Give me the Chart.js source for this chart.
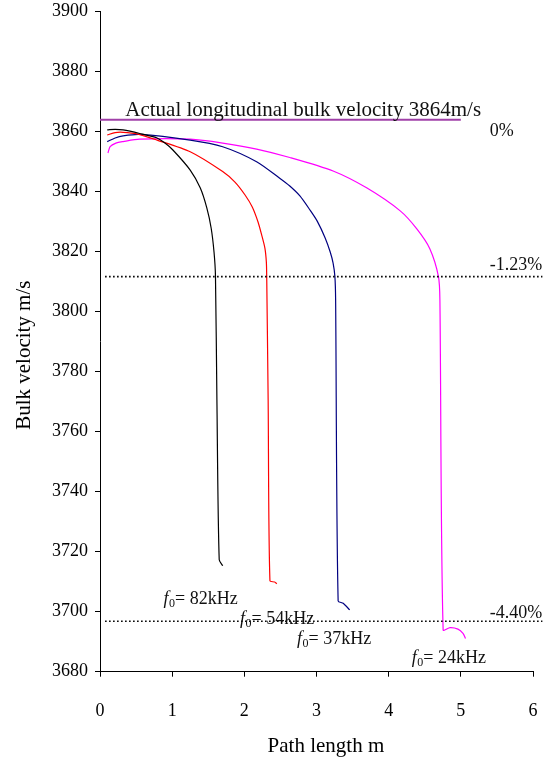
<!DOCTYPE html>
<html>
<head>
<meta charset="utf-8">
<script src="https://cdn.jsdelivr.net/npm/chart.js@4"></script>
<style>
  html, body { margin: 0; padding: 0; background: #fff; overflow: hidden; }
  #wrap { width: 553px; height: 760px; }
  canvas { display: block; }
</style>
</head>
<body>
<div id="wrap"><canvas id="c" width="553" height="760"></canvas></div>
<script>
// ---- data ----
const xTicks = [0, 1, 2, 3, 4, 5, 6];
const yTicks = [3680, 3700, 3720, 3740, 3760, 3780, 3800, 3820, 3840, 3860, 3880, 3900];

const f82X = [0.10, 0.21, 0.32, 0.55, 0.79, 0.90, 1.01, 1.25, 1.39, 1.48, 1.54, 1.58, 1.60, 1.62, 1.652, 1.70];
const f82Y = [3860.6, 3860.8, 3860.6, 3859.4, 3857.9, 3856.2, 3853.9, 3847.2, 3841.2, 3834.6, 3827.9, 3819.9, 3811.9, 3770.6, 3717.3, 3715.3];

const f54X = [0.10, 0.21, 0.32, 0.51, 0.79, 1.25, 1.70, 1.87, 2.01, 2.11, 2.19, 2.24, 2.285, 2.305, 2.31, 2.33, 2.355, 2.42, 2.45];
const f54Y = [3858.9, 3859.7, 3859.8, 3859.3, 3857.2, 3853.3, 3846.7, 3843.2, 3838.9, 3834.9, 3829.9, 3825.6, 3821.2, 3816.6, 3811.9, 3770.6, 3710.3, 3709.9, 3709.3];

const f37X = [0.10, 0.21, 0.32, 0.55, 1.25, 1.70, 2.17, 2.49, 2.63, 2.77, 2.91, 3.01, 3.12, 3.19, 3.23, 3.255, 3.265, 3.30, 3.37, 3.46];
const f37Y = [3856.7, 3857.9, 3858.6, 3859.1, 3857.2, 3855.0, 3850.0, 3844.5, 3841.9, 3838.6, 3833.9, 3830.2, 3824.6, 3819.9, 3816.2, 3811.7, 3803.9, 3703.6, 3702.8, 3700.6];

const f24X = [0.11, 0.14, 0.22, 0.32, 0.55, 1.25, 1.70, 2.17, 2.63, 3.23, 3.70, 4.16, 4.39, 4.57, 4.69, 4.71, 4.755, 4.85, 4.96, 5.03, 5.065];
const f24Y = [3852.9, 3855.0, 3856.2, 3856.7, 3857.5, 3857.5, 3856.2, 3854.2, 3851.4, 3846.9, 3841.2, 3833.6, 3827.6, 3821.0, 3811.7, 3803.9, 3693.9, 3694.7, 3694.2, 3692.8, 3691.1];

const actualVelocity = 3864;
const actualX = [0, 5.0];
const lim123 = 3811.7;
const lim440 = 3696.8;
const limX = [0.07, 6.13];

const seriesLabels = ['82kHz', '54kHz', '37kHz', '24kHz'];
const xTitle = 'Path length m';
const yTitle = 'Bulk velocity m/s';

// ---- helpers ----
const pts = (xs, ys) => xs.map((x, i) => ({ x: x, y: ys[i] }));
const flat = (xs, v) => xs.map(x => ({ x: x, y: v }));
const SERIF = '"Liberation Serif", "Times New Roman", serif';

function curve(label, xs, ys, color) {
  return {
    label: label, data: pts(xs, ys), borderColor: color, backgroundColor: color,
    borderWidth: 1.2, showLine: true, pointRadius: 0, fill: false, tension: 0.25
  };
}

const textPlugin = {
  id: 'texts',
  afterDatasetsDraw(chart) {
    const ctx = chart.ctx, xs = chart.scales.x, ys = chart.scales.y;
    const px = v => xs.getPixelForValue(v), py = v => ys.getPixelForValue(v);
    ctx.save();
    ctx.fillStyle = '#111';
    ctx.textBaseline = 'alphabetic';
    ctx.textAlign = 'left';
    ctx.font = '21px ' + SERIF;
    ctx.fillText('Actual longitudinal bulk velocity ' + actualVelocity + 'm/s', px(0.35), py(3865.3));
    ctx.font = '18px ' + SERIF;
    ctx.fillText('0%', px(5.40), py(3858.5));
    ctx.fillText('-1.23%', px(5.40), py(3814));
    ctx.fillText('-4.40%', px(5.40), py(3698));
    const flab = [[0.88, 3702.6], [1.94, 3695.9], [2.73, 3689.2], [4.32, 3682.8]];
    flab.forEach((p, i) => {
      let x = px(p[0]); const y = py(p[1]);
      ctx.font = 'italic 18px ' + SERIF;
      ctx.fillText('f', x, y);
      x += ctx.measureText('f').width + 0.5;
      ctx.font = '12px ' + SERIF;
      ctx.fillText('0', x, y + 3);
      x += ctx.measureText('0').width;
      ctx.font = '18px ' + SERIF;
      ctx.fillText('= ' + seriesLabels[i], x, y);
    });
    // axis titles
    ctx.fillStyle = '#000';
    ctx.font = '21px ' + SERIF;
    ctx.textAlign = 'center';
    ctx.textBaseline = 'middle';
    ctx.fillText(xTitle, px(3.13), chart.height - 14);
    ctx.translate(24, py(3785.5));
    ctx.rotate(-Math.PI / 2);
    ctx.fillText(yTitle, 0, 0);
    ctx.restore();
  }
};

new Chart(document.getElementById('c'), {
  type: 'scatter',
  data: {
    datasets: [
      {
        label: 'Actual', data: flat(actualX, actualVelocity), borderColor: '#a040a8',
        borderWidth: 2, showLine: true, pointRadius: 0, fill: false
      },
      {
        label: '-1.23%', data: flat(limX, lim123), borderColor: '#000',
        borderWidth: 1.6, borderDash: [1.6, 2.4], showLine: true, pointRadius: 0, clip: false
      },
      {
        label: '-4.40%', data: flat(limX, lim440), borderColor: '#000',
        borderWidth: 1.6, borderDash: [1.6, 2.4], showLine: true, pointRadius: 0, clip: false
      },
      curve('f0= 82kHz', f82X, f82Y, '#000000'),
      curve('f0= 54kHz', f54X, f54Y, '#ff0000'),
      curve('f0= 37kHz', f37X, f37Y, '#000080'),
      curve('f0= 24kHz', f24X, f24Y, '#ff00ff')
    ]
  },
  options: {
    responsive: false,
    animation: false,
    devicePixelRatio: 1,
    layout: { padding: { left: 0, right: 20, top: 11.7, bottom: 0 } },
    plugins: { legend: { display: false }, tooltip: { enabled: false } },
    scales: {
      x: {
        type: 'linear', min: 0, max: 6,
        afterBuildTicks: s => { s.ticks = xTicks.map(v => ({ value: v })); },
        afterFit: s => { s.height = 88.3; s.paddingLeft = 0; s.paddingRight = 0; },
        grid: { drawOnChartArea: false, drawTicks: true, tickLength: 5, color: '#000' },
        border: { display: true, color: '#000', width: 1 },
        ticks: { color: '#000', padding: 24, maxRotation: 0, font: { family: SERIF, size: 18 },
                 callback: v => String(v) },
        title: { display: false, text: xTitle }
      },
      y: {
        type: 'linear', min: 3680, max: 3900,
        afterBuildTicks: s => { s.ticks = yTicks.map(v => ({ value: v })); },
        afterFit: s => { s.width = 100; s.paddingTop = 0; s.paddingBottom = 0; },
        grid: { drawOnChartArea: false, drawTicks: true, tickLength: 5, color: '#000' },
        border: { display: true, color: '#000', width: 1 },
        ticks: { color: '#000', padding: 7, font: { family: SERIF, size: 18 },
                 callback: v => String(v) },
        title: { display: false, text: yTitle }
      }
    }
  },
  plugins: [textPlugin]
});
</script>
</body>
</html>
